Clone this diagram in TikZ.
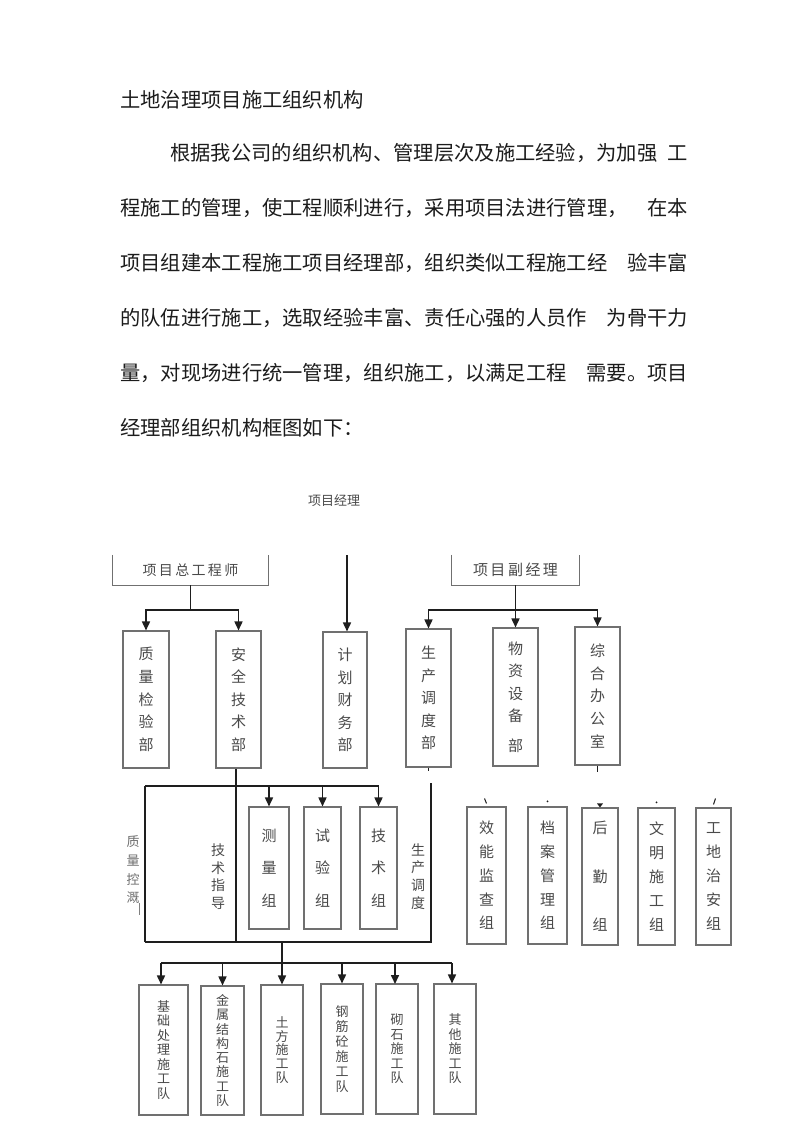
\documentclass[tikz,border=0pt]{standalone}
\usepackage{fontspec}
\setmainfont{Noto Sans CJK SC}
\usetikzlibrary{arrows.meta}
\definecolor{ln}{HTML}{1E1E1E}
\definecolor{bx}{HTML}{707070}
\definecolor{tx}{HTML}{4A4A4A}
\definecolor{body}{HTML}{1C1C1C}
\tikzset{
  box/.style={draw=bx, line width=1.1pt, inner sep=0pt, align=center, text=tx},
  conn/.style={draw=ln, line width=1.6pt},
  arr/.style={conn, -{Triangle[width=8pt,length=9pt]}},
  bodytext/.style={anchor=west, inner sep=0pt, text=body, font=\fontsize{20.3}{24}\selectfont},
  lab/.style={inner sep=0pt, align=center, text=tx},
  fbig/.style={font=\fontsize{15}{22.6}\selectfont},
  fgrp/.style={font=\fontsize{15}{32.5}\selectfont},
  frgt/.style={font=\fontsize{15}{23.8}\selectfont},
  fbot/.style={font=\fontsize{13}{14.5}\selectfont},
}
\begin{document}
\begin{tikzpicture}[x=1pt,y=-1pt]
\useasboundingbox (0,0) rectangle (800,1132);
\fill[white] (0,0) rectangle (800,1132);

% ---- body text
\node[bodytext] (title) at (120,100) {土地治理项目施工组织机构};
\node[bodytext] (l1) at (170,153) {\makebox[518pt][l]{根据我公司的组织机构、管理层次及施工经验，为加强\hfill 工}};
\node[bodytext] (l2) at (120,208) {\makebox[568pt][l]{程施工的管理，使工程顺利进行，采用项目法进行管理，\hfill 在本}};
\node[bodytext] (l3) at (120,263) {\makebox[568pt][l]{项目组建本工程施工项目经理部，组织类似工程施工经\hfill 验丰富}};
\node[bodytext] (l4) at (120,318) {\makebox[568pt][l]{的队伍进行施工，选取经验丰富、责任心强的人员作\hfill 为骨干力}};
\node[bodytext] (l5) at (120,373) {\makebox[568pt][l]{量，对现场进行统一管理，组织施工，以满足工程\hfill 需要。项目}};
\node[bodytext] (l6) at (120,428) {经理部组织机构框图如下：};

% ---- chart heads
\node[lab, font=\fontsize{13}{15}\selectfont] (pm) at (334,501) {项目经理};
\coordinate (pmtop) at (347,555);

\node[lab, minimum width=155pt, minimum height=30pt, font=\fontsize{14}{16}\selectfont] (zg) at (190.5,570) {项\,目\,总\,工\,程\,师};
\draw[draw=bx, line width=1.1pt] (zg.north west) -- (zg.south west) -- (zg.south east) -- (zg.north east);
\node[lab, minimum width=127pt, minimum height=30pt, font=\fontsize{15}{16}\selectfont] (fj) at (515.5,570) {项\,目\,副\,经\,理};
\draw[draw=bx, line width=1.1pt] (fj.north west) -- (fj.south west) -- (fj.south east) -- (fj.north east);

% ---- departments
\node[box, fbig, minimum width=46pt, minimum height=137pt] (zl) at (146,699.5) {质\\量\\检\\验\\部};
\node[box, fbig, minimum width=45pt, minimum height=137pt] (aq) at (238.5,699.5) {安\\全\\技\\术\\部};
\node[box, fbig, minimum width=44pt, minimum height=136pt] (jh) at (345,700) {计\\划\\财\\务\\部};
\node[box, fbig, minimum width=45pt, minimum height=138pt] (sc) at (428.5,698) {生\\产\\调\\度\\部};
\node[box, fbig, minimum width=45pt, minimum height=138pt] (wz) at (515.5,697) {物\\资\\设\\备\\[7pt]部};
\node[box, fbig, minimum width=45pt, minimum height=138pt] (zh) at (597.5,696) {综\\合\\办\\公\\室};

% connectors from heads
\coordinate (zgj) at (190.5,610);
\draw[conn] (zg.south) -- (zgj);
\draw[arr] (zgj) -| (zl.north);
\draw[arr] (zgj) -| (aq.north);
\draw[arr] (pmtop) -- (pmtop |- jh.north);
\coordinate (fjj) at (515.5,610);
\draw[arr] (fj.south) -- (wz.north);
\draw[arr] (fjj) -| (sc.north);
\draw[arr] (fjj) -| (zh.north);

% ---- groups under 安全技术部
\node[box, fgrp, minimum width=40pt, minimum height=122pt] (cl) at (269,868) {测\\量\\组};
\node[box, fgrp, minimum width=37pt, minimum height=122pt] (sy) at (322.5,868) {试\\验\\组};
\node[box, fgrp, minimum width=37pt, minimum height=122pt] (js) at (378.5,868) {技\\术\\组};

% frame
\coordinate (ftl) at (145,786);
\coordinate (fbl) at (145,942);
\coordinate (fbr) at (431,942);
\coordinate (ftr) at (431,783);
\coordinate (fbm) at (236,942);
\draw[conn] (fbl) -- (ftl);
\draw[arr] (ftl) -| (js.north);
\draw[arr] (cl.north |- ftl) -- (cl.north);
\draw[arr] (sy.north |- ftl) -- (sy.north);
\draw[conn] (fbm |- aq.south) -- (fbm);
\draw[conn] (fbl) -- (fbr) -- (ftr);
\draw[conn] (sc.south) -- ++(0,3);
\draw[conn] (zh.south) -- ++(0,6);

% frame labels
\node[lab, font=\fontsize{13}{18.7}\selectfont, text=tx!80] (zk) at (133,870) {质\\量\\控\\溉};
\coordinate (zka) at (139,903);
\coordinate (zkb) at (139,915);
\draw[draw=tx!70, line width=0.6pt] (zka) -- (zkb);
\node[lab, font=\fontsize{14}{17.7}\selectfont] (jz) at (218,876.5) {技\\术\\指\\导};
\node[lab, font=\fontsize{14}{17.7}\selectfont] (sd) at (418,876.5) {生\\产\\调\\度};

% ---- right groups
\node[box, frgt, minimum width=39pt, minimum height=137pt] (xn) at (486.5,875.5) {效\\能\\监\\查\\组};
\node[box, frgt, minimum width=39pt, minimum height=137pt] (da) at (547.5,875.5) {档\\案\\管\\理\\组};
\node[box, font=\fontsize{15}{48.5}\selectfont, minimum width=36pt, minimum height=137pt] (hq) at (600,876.5) {后\\勤\\组};
\node[box, frgt, minimum width=37pt, minimum height=137pt] (wm) at (656.5,876.5) {文\\明\\施\\工\\组};
\node[box, frgt, minimum width=35pt, minimum height=137pt] (gd) at (713.5,876.5) {工\\地\\治\\安\\组};
% small residual marks above the boxes
\draw[draw=ln, line width=1pt] ([xshift=-2pt,yshift=8pt]xn.north) -- ([xshift=0pt,yshift=3pt]xn.north);
\fill[ln] ([yshift=5pt]da.north) circle (1pt);
\fill[ln] ([xshift=-3pt,yshift=4pt]hq.north) -- ([xshift=3pt,yshift=4pt]hq.north) -- (hq.north) -- cycle;
\fill[ln] ([yshift=5pt]wm.north) circle (1pt);
\draw[draw=ln, line width=1pt] ([xshift=2pt,yshift=9pt]gd.north) -- ([xshift=0pt,yshift=3pt]gd.north);

% ---- bottom teams
\node[box, fbot, minimum width=49pt, minimum height=130pt] (b1) at (163.5,1050) {基\\础\\处\\理\\施\\工\\队};
\node[box, font=\fontsize{13}{14.3}\selectfont, minimum width=43pt, minimum height=129pt] (b2) at (222.5,1050.5) {金\\属\\结\\构\\石\\施\\工\\队};
\node[box, font=\fontsize{13}{13.9}\selectfont, minimum width=42pt, minimum height=130pt] (b3) at (282,1050) {土\\方\\施\\工\\队};
\node[box, font=\fontsize{13}{15}\selectfont, minimum width=42pt, minimum height=130pt] (b4) at (342,1049) {钢\\筋\\砼\\施\\工\\队};
\node[box, fbot, minimum width=42pt, minimum height=130pt] (b5) at (397,1049) {砌\\石\\施\\工\\队};
\node[box, fbot, minimum width=42pt, minimum height=130pt] (b6) at (455,1049) {其\\他\\施\\工\\队};

\coordinate (bj) at (282,963);
\coordinate (bjl) at (161,963);
\coordinate (bjr) at (452,963);
\draw[conn] (bj |- fbl) -- (bj);
\draw[conn] (bjl) -- (bjr);
\draw[arr] (bjl) -- (bjl |- b1.north);
\draw[arr] (b2.north |- bj) -- (b2.north);
\draw[arr] (b3.north |- bj) -- (b3.north);
\draw[arr] (b4.north |- bj) -- (b4.north);
\draw[arr] (395,963) -- (395,984);
\draw[arr] (bjr) -- (bjr |- b6.north);
\end{tikzpicture}
\end{document}
